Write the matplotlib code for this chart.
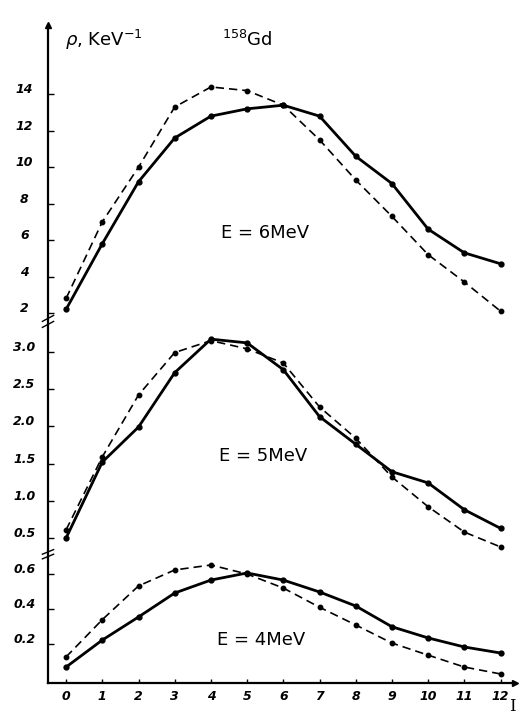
import numpy as np
import matplotlib
matplotlib.use("Agg")
import matplotlib.pyplot as plt
from matplotlib.transforms import ScaledTranslation

# spin values
spin = np.arange(13)

# level density, E = 6 MeV
rho6_solid = [2.2, 5.8, 9.2, 11.6, 12.8, 13.2, 13.4, 12.8, 10.6, 9.1, 6.6, 5.3, 4.7]
rho6_dash = [2.8, 7.0, 10.0, 13.3, 14.4, 14.2, 13.4, 11.5, 9.3, 7.3, 5.2, 3.7, 2.1]

# level density, E = 5 MeV
rho5_solid = [0.50, 1.52, 1.99, 2.72, 3.17, 3.12, 2.76, 2.13, 1.76, 1.39, 1.24, 0.88, 0.63]
rho5_dash = [0.61, 1.59, 2.42, 2.99, 3.15, 3.04, 2.85, 2.26, 1.84, 1.32, 0.92, 0.58, 0.38]

# level density, E = 4 MeV
rho4_solid = [0.073, 0.225, 0.355, 0.49, 0.563, 0.603, 0.563, 0.496, 0.417, 0.30, 0.237, 0.186, 0.152]
rho4_dash = [0.13, 0.34, 0.53, 0.62, 0.648, 0.597, 0.518, 0.41, 0.31, 0.208, 0.14, 0.073, 0.034]

panels = [
    (rho6_solid, rho6_dash, (1.34, 17.8), [2, 4, 6, 8, 10, 12, 14], ["2", "4", "6", "8", "10", "12", "14"], "E = 6MeV", 5.5, 6.4),
    (rho5_solid, rho5_dash, (0.245, 3.36), [0.5, 1.0, 1.5, 2.0, 2.5, 3.0], ["0.5", "1.0", "1.5", "2.0", "2.5", "3.0"], "E = 5MeV", 5.45, 1.6),
    (rho4_solid, rho4_dash, (-0.017, 0.693), [0.2, 0.4, 0.6], ["0.2", "0.4", "0.6"], "E = 4MeV", 5.4, 0.225),
]

fig = plt.figure(figsize=(5.27, 7.15), dpi=100)
fig.patch.set_facecolor("white")

W, H = 527.0, 715.0
left = 48 / W
width = 467 / W
edges = [(25, 325), (325, 557), (557, 683)]

tick_font = dict(fontsize=9, fontweight="bold", fontstyle="italic")
axes = []
for (solid, dash, ylim, yt, ytl, label, lx, ly), (ptop, pbot) in zip(panels, edges):
    ax = fig.add_axes([left, 1 - pbot / H, width, (pbot - ptop) / H])
    ax.plot(spin, dash, color="black", lw=1.2, ls=(0, (5, 3)), marker="o", ms=3.2)
    ax.plot(spin, solid, color="black", lw=2.0, marker="o", ms=3.5)
    ax.set_xlim(-0.5, 12.4)
    ax.set_ylim(*ylim)
    for s in ["top", "right", "bottom"]:
        ax.spines[s].set_visible(False)
    ax.spines["left"].set_linewidth(1.6)
    ax.set_yticks(yt)
    ax.set_yticklabels(ytl, **tick_font)
    ax.tick_params(axis="y", direction="in", length=4, width=1.0, pad=17)
    offset = ScaledTranslation(0, 0.06, fig.dpi_scale_trans)
    for t in ax.get_yticklabels():
        t.set_horizontalalignment("center")
        t.set_transform(t.get_transform() + offset)
    ax.set_xticks([])
    ax.text(lx, ly, label, fontsize=13, ha="center", va="center")
    axes.append(ax)

ax_top, ax_mid, ax_bot = axes

# bottom axis with spin ticks
ax_bot.spines["bottom"].set_visible(True)
ax_bot.spines["bottom"].set_linewidth(1.6)
ax_bot.set_xticks(spin)
ax_bot.set_xticklabels([str(i) for i in spin], **tick_font)
ax_bot.tick_params(axis="x", direction="in", length=3, width=1.0, pad=5)
ax_bot.plot(1.0, 0.0, ">", color="black", ms=5, transform=ax_bot.transAxes, clip_on=False)
ax_bot.text(0.995, -0.19, "I", transform=ax_bot.transAxes, fontsize=12, family="DejaVu Serif",
            ha="center", va="center")

# arrow on top of y axis
ax_top.plot(0.0, 1.0, "^", color="black", ms=5, transform=ax_top.transAxes, clip_on=False)

# axis break marks
for ax in (ax_top, ax_mid):
    bx = [-0.012, 0.012]
    ax.plot(bx, [0.012, 0.032], color="black", lw=1.0, transform=ax.transAxes, clip_on=False)
    ax.plot(bx, [-0.008, 0.012], color="black", lw=1.0, transform=ax.transAxes, clip_on=False)

# title texts
fig.text(65 / W, 1 - 40 / H, r"$\rho$, KeV$^{-1}$", fontsize=13, ha="left", va="center")
fig.text(222 / W, 1 - 40 / H, r"$^{158}$Gd", fontsize=13, ha="left", va="center")

fig.savefig("out.png", dpi=100, facecolor="white")
